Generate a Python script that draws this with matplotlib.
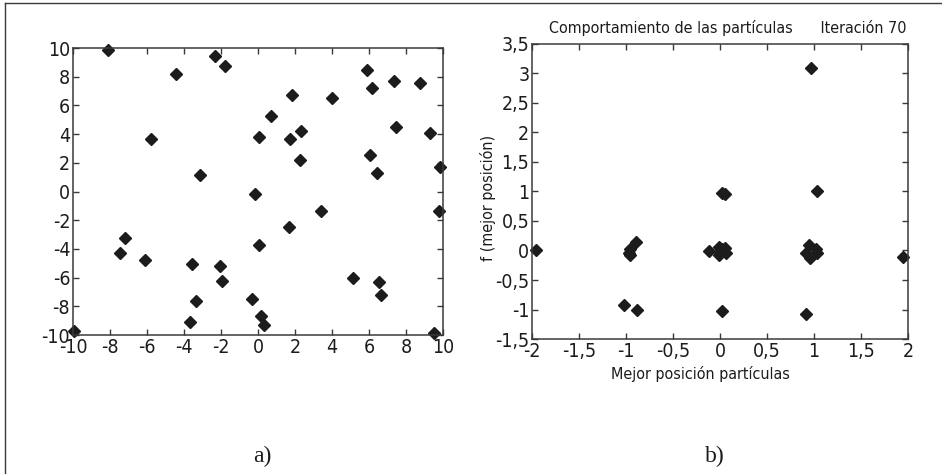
"""
Particle swarm: initial positions (a) and best positions at iteration 70 (b)
"""
import matplotlib
matplotlib.use("Agg")
import matplotlib.pyplot as plt
from matplotlib.lines import Line2D

NARROW = ['DejaVu Sans']
SERIF = ['Liberation Serif', 'DejaVu Serif']

# a) random initial positions
init_x = [-8.1, -2.3, -1.8, -4.45, -5.77, -3.15, 5.87, 6.14, 7.34, 8.73, 1.84, 4.0,
          0.72, 7.46, 0.04, 1.75, 2.33, 9.31, 6.05, 2.25, 6.43, 9.84, -0.16, 3.39,
          9.77, 1.7, 0.07, -7.19, -7.46, -6.09, -3.59, -2.04, -1.93, 5.16, 6.53,
          6.66, -3.33, -0.32, 0.14, 0.31, -3.68, -9.96, 9.51]
init_y = [9.85, 9.45, 8.75, 8.19, 3.67, 1.16, 8.47, 7.23, 7.72, 7.58, 6.76, 6.55,
          5.27, 4.5, 3.77, 3.63, 4.19, 4.05, 2.53, 2.21, 1.27, 1.73, -0.14, -1.36,
          -1.33, -2.47, -3.72, -3.23, -4.28, -4.8, -5.03, -5.22, -6.27, -6.05, -6.29,
          -7.23, -7.62, -7.5, -8.66, -9.3, -9.07, -9.7, -9.88]

# b) best positions and f(best) after 70 iterations
best_x = [0.97, 1.03, 0.02, 0.05, -1.96, -0.89, -0.96, -0.97, -0.96, -0.12,
          -0.01, 0.05, 0.0, 0.06, -0.01, 0.02, 0.95, 0.91, 1.02, 1.03, 0.96,
          1.95, -1.02, -0.88, 0.02, 0.91]
best_f = [3.09, 1.0, 0.98, 0.95, 0.0, 0.14, 0.03, -0.04, -0.08, -0.01,
          0.06, 0.05, -0.03, -0.04, -0.08, 0.02, 0.1, -0.04, 0.03, -0.04, -0.12,
          -0.11, -0.92, -1.01, -1.03, -1.08]

a_ticks = [-10, -8, -6, -4, -2, 0, 2, 4, 6, 8, 10]
b_xticks = [-2, -1.5, -1, -0.5, 0, 0.5, 1, 1.5, 2]
b_xlabels = ['-2', '-1,5', '-1', '-0,5', '0', '0,5', '1', '1,5', '2']
b_yticks = [-1.5, -1, -0.5, 0, 0.5, 1, 1.5, 2, 2.5, 3, 3.5]
b_ylabels = ['-1,5', '-1', '-0,5', '0', '0,5', '1', '1,5', '2', '2,5', '3', '3,5']

INK = '#1c1c1c'
SPINE = '#3a3a3a'

fig = plt.figure(figsize=(9.42, 4.74), dpi=100)


def style(ax):
    for s in ax.spines.values():
        s.set_color(SPINE)
        s.set_linewidth(1.1)
    ax.tick_params(direction='in', length=4, width=1.0, color=SPINE,
                   top=True, right=True, pad=2, labelcolor=INK)
    for lab in ax.get_xticklabels() + ax.get_yticklabels():
        lab.set_family(NARROW)
        lab.set_stretch('condensed')
        lab.set_fontsize(14)


# Panel a
ax1 = fig.add_axes([0.0775, 0.2932, 0.3928, 0.6055])
ax1.plot(init_x, init_y, 'D', color=INK, markersize=6, clip_on=False)
ax1.set_xlim(-10, 10)
ax1.set_ylim(-10, 10)
ax1.set_xticks(a_ticks)
ax1.set_yticks(a_ticks)
ax1.set_xticklabels([str(t) for t in a_ticks])
ax1.set_yticklabels([str(t) for t in a_ticks])
style(ax1)

# Panel b
ax2 = fig.add_axes([0.5648, 0.2848, 0.3991, 0.6224])
ax2.plot(best_x, best_f, 'D', color=INK, markersize=6, clip_on=False)
ax2.set_xlim(-2, 2)
ax2.set_ylim(-1.5, 3.5)
ax2.set_xticks(b_xticks)
ax2.set_xticklabels(b_xlabels)
ax2.set_yticks(b_yticks)
ax2.set_yticklabels(b_ylabels)
style(ax2)
ax2.set_title('Comportamiento de las partículas      Iteración 70',
              family=NARROW, stretch='condensed', fontsize=11.5, color=INK,
              pad=8, x=0.52)
ax2.set_xlabel('Mejor posición partículas', family=NARROW, stretch='condensed',
               fontsize=11.5, color=INK)
ax2.xaxis.set_label_coords(0.447, -0.09)
ax2.set_ylabel('f (mejor posición)', family=NARROW, stretch='condensed',
               fontsize=11.5, color=INK)
ax2.yaxis.set_label_coords(-0.095, 0.478)

# panel captions
fig.text(262 / 942, 1 - 456 / 474, 'a)', family=SERIF, fontsize=17,
         color=INK, ha='center', va='center')
fig.text(715 / 942, 1 - 456 / 474, 'b)', family=SERIF, fontsize=17,
         color=INK, ha='center', va='center')

# outer frame (top and left edges)
fig.add_artist(Line2D([5 / 942, 1.0], [1 - 3 / 474, 1 - 3 / 474],
                      color=SPINE, linewidth=1.0))
fig.add_artist(Line2D([5 / 942, 5 / 942], [0.0, 1 - 3 / 474],
                      color=SPINE, linewidth=1.0))

plt.savefig("out.png", dpi=100)
print("Saved out.png")
